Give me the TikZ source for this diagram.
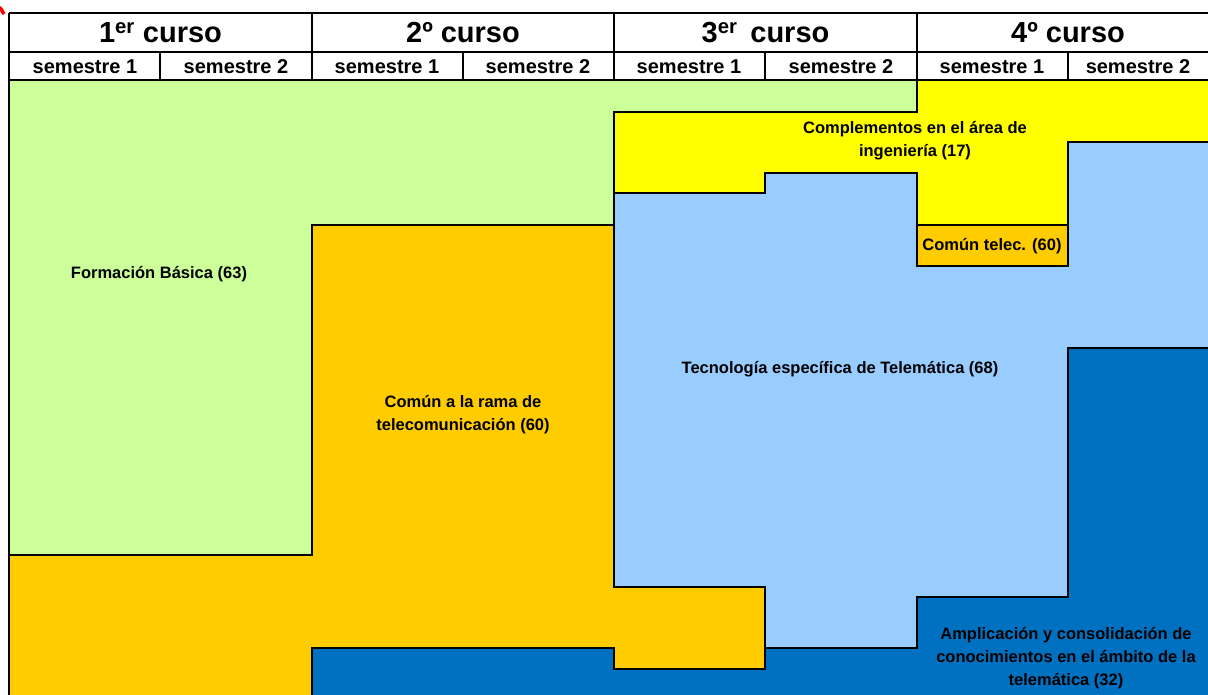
\documentclass[tikz,border=0pt]{standalone}
\usepackage{fontspec}
\setmainfont{Liberation Sans}
\definecolor{cgreen}{HTML}{CCFF99}
\definecolor{corange}{HTML}{FFCC00}
\definecolor{cyellow}{HTML}{FFFF00}
\definecolor{clblue}{HTML}{99CCFF}
\definecolor{cdblue}{HTML}{0070C0}
\tikzset{
  region/.style={draw=black, line width=2.5pt, line join=miter},
  hdrline/.style={draw=black, line width=2.5pt},
  semline/.style={draw=black, line width=1.8pt},
  coursetxt/.style={font=\bfseries\fontsize{29}{31}\selectfont, inner sep=0pt},
  semtxt/.style={font=\bfseries\fontsize{20}{22}\selectfont, inner sep=0pt},
  lbl/.style={font=\bfseries\fontsize{16.5}{23}\selectfont, align=center, inner sep=0pt},
}
\begin{document}
\begin{tikzpicture}[x=1pt, y=-1pt]
\useasboundingbox (0,0) rectangle (1208,695);
\clip (0,0) rectangle (1208,695);
\fill[white] (0,0) rectangle (1208,695);
% red mark at corner
\draw[red, line width=3.5pt] (-12,3) arc[start angle=-90, end angle=-20, radius=17];
% regions
\fill[cgreen] (9,80) -- (917,80) -- (917,112) -- (614,112) -- (614,225) -- (312,225) -- (312,555) -- (9,555) -- cycle;
\fill[corange] (9,555) -- (312,555) -- (312,225) -- (614,225) -- (614,587) -- (765,587) -- (765,669) -- (614,669) -- (614,648) -- (312,648) -- (312,700) -- (9,700) -- cycle;
\fill[cyellow] (917,80) -- (1215,80) -- (1215,142) -- (1068,142) -- (1068,225) -- (917,225) -- (917,173) -- (765,173) -- (765,193) -- (614,193) -- (614,112) -- (917,112) -- cycle;
\fill[corange] (917,225) rectangle (1068,266);
\fill[clblue] (614,193) -- (765,193) -- (765,173) -- (917,173) -- (917,266) -- (1068,266) -- (1068,142) -- (1215,142) -- (1215,348) -- (1068,348) -- (1068,597) -- (917,597) -- (917,648) -- (765,648) -- (765,587) -- (614,587) -- cycle;
\fill[cdblue] (312,700) -- (312,648) -- (614,648) -- (614,669) -- (765,669) -- (765,648) -- (917,648) -- (917,597) -- (1068,597) -- (1068,348) -- (1215,348) -- (1215,700) -- cycle;
% borders
\draw[region] (9,80) -- (9,700);
\draw[region] (9,555) -- (312,555) -- (312,225) -- (614,225) -- (614,112) -- (917,112) -- (917,80);
\draw[region] (614,225) -- (614,587) -- (765,587) -- (765,669) -- (614,669) -- (614,648) -- (312,648) -- (312,700);
\draw[region] (614,193) -- (765,193) -- (765,173) -- (917,173) -- (917,266) -- (1068,266) -- (1068,142) -- (1215,142);
\draw[region] (917,225) -- (1068,225);
\draw[region] (1215,348) -- (1068,348) -- (1068,597) -- (917,597) -- (917,648) -- (765,648);
% header
\fill[white] (9,13) rectangle (1215,80);
\draw[hdrline] (9,13) -- (1215,13);
\draw[hdrline] (9,52) -- (1215,52);
\draw[hdrline] (9,80) -- (1215,80);
\draw[hdrline] (9,13) -- (9,80);
\foreach \x in {312,614,917} \draw[hdrline] (\x,13) -- (\x,80);
\foreach \x in {160,463,765,1068} \draw[semline] (\x,52) -- (\x,80);
% course titles
\node[coursetxt] (c1) at (160.5,33) {1\textsuperscript{er} curso};
\node[coursetxt] (c2) at (463,33) {2º curso};
\node[coursetxt] (c3) at (765.5,33) {3\textsuperscript{er}\, curso};
\node[coursetxt] (c4) at (1068,33) {4º curso};
% semesters
\foreach \x/\n/\t in {85/s1/semestre 1,236/s2/semestre 2,387/s3/semestre 1,538/s4/semestre 2,689/s5/semestre 1,841/s6/semestre 2,992/s7/semestre 1,1138/s8/semestre 2}
  \node[semtxt] (\n) at (\x,67) {\t};
% labels
\node[lbl] (fb) at (159,274) {Formación Básica (63)};
\node[lbl] (cr) at (463,415) {Común a la rama de\\telecomunicación (60)};
\node[lbl] (ci) at (915,141) {Complementos en el área de\\ingeniería (17)};
\node[lbl] (ct) at (992,246) {Común telec. (60)};
\node[lbl] (te) at (840,369) {Tecnología específica de Telemática (68)};
\node[lbl] (am) at (1066,658) {Amplicación y consolidación de\\conocimientos en el ámbito de la\\telemática (32)};
\end{tikzpicture}
\end{document}
